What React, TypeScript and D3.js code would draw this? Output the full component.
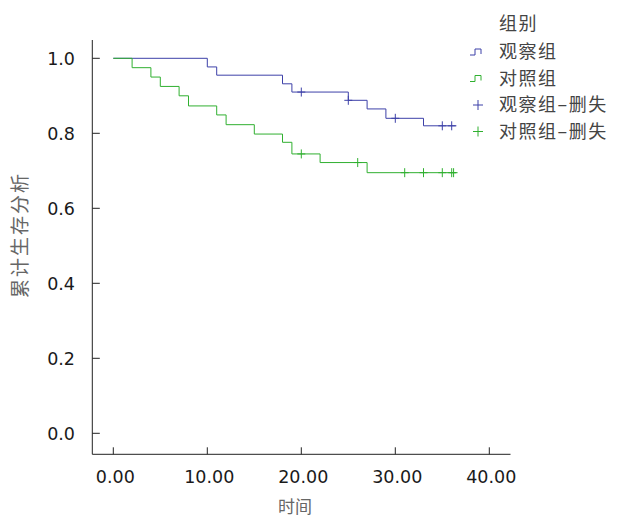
import * as d3 from "d3";

// survival step data
const obsTimes = [0, 10, 11, 18, 19, 25, 27, 29, 33, 36.5];
const obsSurv = [1.0, 0.977, 0.955, 0.932, 0.91, 0.888, 0.865, 0.84, 0.82, 0.82];
const obsCensor = [20, 25, 30, 35, 36];

const ctlTimes = [0, 2, 4, 5, 7, 8, 11, 12, 15, 18, 19, 22, 27, 36.5];
const ctlSurv = [1.0, 0.975, 0.95, 0.925, 0.9, 0.873, 0.849, 0.823, 0.798, 0.776, 0.745, 0.722, 0.695, 0.695];
const ctlCensor = [20, 26, 31, 33, 35, 36, 36.2];

const xTicks = [0, 10, 20, 30, 40];
const yTicks = [0, 0.2, 0.4, 0.6, 0.8, 1.0];

const legendItems = ["观察组", "对照组", "观察组–删失", "对照组–删失"];

const BLUE = "#3d40a8";
const GREEN = "#30b030";
const NUM_FONT = "'DejaVu Sans', sans-serif";
const CJK_FONT = "'Noto Sans CJK SC', sans-serif";

const W = 621;
const H = 517;

const x = d3.scaleLinear().domain([0, 40]).range([113.3, 489.3]);
const y = d3.scaleLinear().domain([0, 1]).range([433.3, 58.3]);

function survAt(times: number[], surv: number[], t: number) {
  let s = surv[0];
  for (let i = 0; i < times.length; i++) if (times[i] <= t) s = surv[i];
  return s;
}

const line = d3
  .line<[number, number]>()
  .x((d) => x(d[0]))
  .y((d) => y(d[1]))
  .curve(d3.curveStepAfter);

function Curve({ times, surv, censor, color }: { times: number[]; surv: number[]; censor: number[]; color: string }) {
  const pts = times.map((t, i) => [t, surv[i]] as [number, number]);
  return (
    <g>
      <path d={line(pts) ?? ""} fill="none" stroke={color} strokeWidth={1} />
      {censor.map((t, i) => {
        const cx = x(t);
        const cy = y(survAt(times, surv, t));
        return (
          <path key={i} d={`M${cx - 4},${cy}H${cx + 4}M${cx},${cy - 4.5}V${cy + 4.5}`} stroke={color} strokeWidth={1} fill="none" />
        );
      })}
    </g>
  );
}

export default function App() {
  const axisX = 92.3;
  const axisY = 454.3;
  return (
    <svg width={W} height={H} style={{ position: "absolute", left: 0, top: 0, background: "#fff" }}>
      {/* axes */}
      <line x1={axisX} x2={axisX} y1={40} y2={axisY} stroke="#222" strokeWidth={1} />
      <line x1={axisX} x2={510.5} y1={axisY} y2={axisY} stroke="#222" strokeWidth={1} />
      {yTicks.map((t) => (
        <g key={t}>
          <line x1={axisX} x2={axisX + 7.5} y1={y(t)} y2={y(t)} stroke="#222" />
          <text x={75} y={y(t) + 6.5} textAnchor="end" fontSize={17.5} fontFamily={NUM_FONT} fill="#1a1a1a">
            {d3.format(".1f")(t)}
          </text>
        </g>
      ))}
      {xTicks.map((t) => (
        <g key={t}>
          <line x1={x(t)} x2={x(t)} y1={axisY} y2={axisY - 7} stroke="#222" />
          <text x={x(t) + 2} y={483} textAnchor="middle" fontSize={17.5} fontFamily={NUM_FONT} fill="#1a1a1a">
            {d3.format(".2f")(t)}
          </text>
        </g>
      ))}
      <text x={295} y={513} textAnchor="middle" fontSize={17} fontFamily={CJK_FONT} fill="#666">
        时间
      </text>
      <text
        transform="translate(27,235) rotate(-90)"
        textAnchor="middle"
        fontSize={19}
        letterSpacing={2}
        fontFamily={CJK_FONT}
        fill="#666"
      >
        累计生存分析
      </text>

      {/* curves */}
      <Curve times={obsTimes} surv={obsSurv} censor={obsCensor} color={BLUE} />
      <Curve times={ctlTimes} surv={ctlSurv} censor={ctlCensor} color={GREEN} />

      {/* legend */}
      <text x={499} y={30} fontSize={18} letterSpacing={1.5} fontFamily={CJK_FONT} fill="#444">
        组别
      </text>
      {legendItems.map((label, i) => {
        const ly = 52 + i * 26.5;
        const color = i % 2 === 0 ? BLUE : GREEN;
        return (
          <g key={label}>
            {i < 2 ? (
              <path d={`M470,${ly + 3}H475V${ly - 3}H481V${ly + 2}`} fill="none" stroke={color} strokeWidth={1} />
            ) : (
              <path d={`M${473},${ly}H${483}M478,${ly - 5}V${ly + 5}`} fill="none" stroke={color} strokeWidth={1} />
            )}
            <text x={499} y={ly + 6} fontSize={18} letterSpacing={1.5} fontFamily={CJK_FONT} fill="#444">
              {label}
            </text>
          </g>
        );
      })}
    </svg>
  );
}
